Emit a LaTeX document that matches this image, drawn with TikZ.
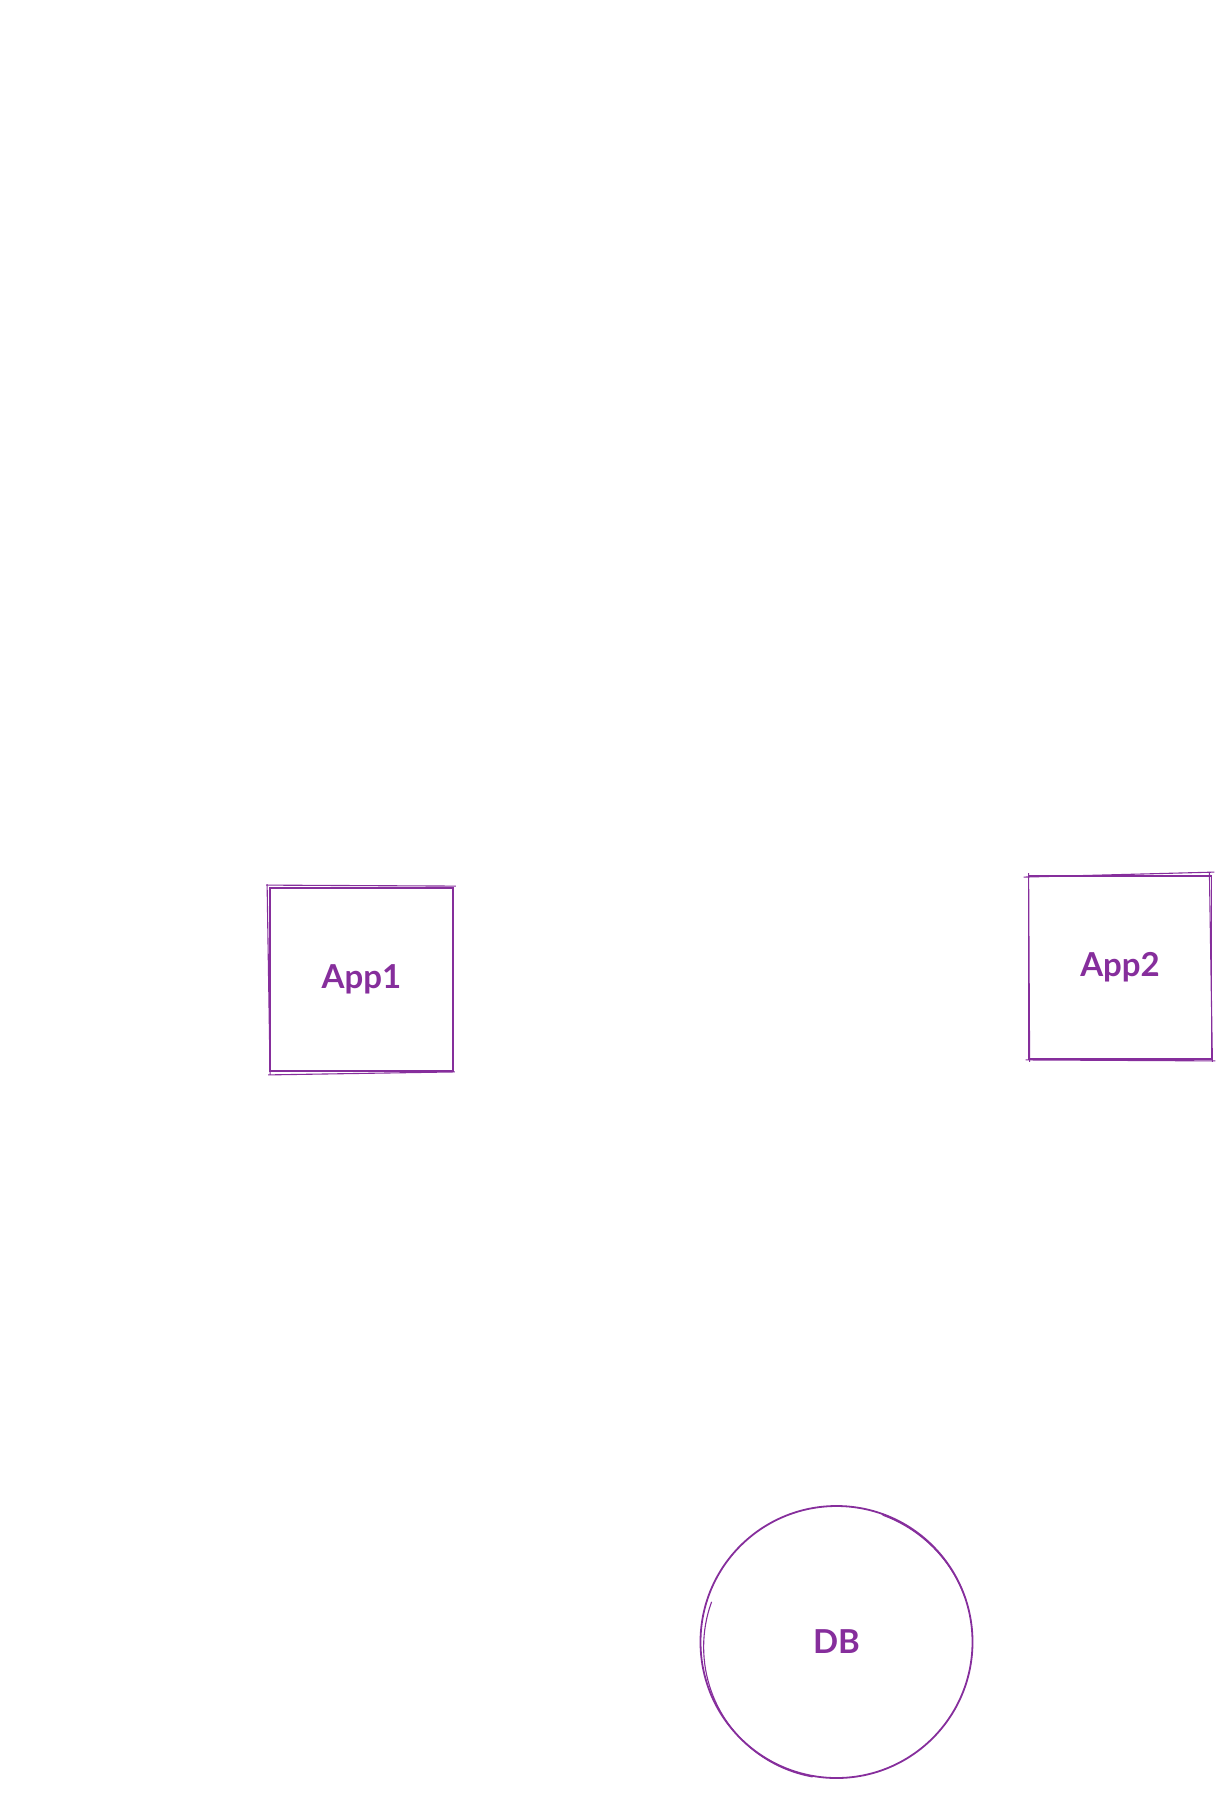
\documentclass[tikz,border=0pt]{standalone}
\usepackage{fontspec}
\setmainfont{Lato}
\definecolor{grape}{HTML}{862E9C}
\begin{document}
\begin{tikzpicture}[x=1pt,y=-1pt,
  sketch/.style={draw=grape, line width=1.8pt},
  boxnode/.style={sketch, rectangle, minimum width=183pt, minimum height=183pt, inner sep=0pt,
     font=\fontsize{33}{36}\selectfont\bfseries, text=grape},
  dbnode/.style={sketch, circle, minimum size=272pt, inner sep=0pt,
     font=\fontsize{33}{36}\selectfont\bfseries, text=grape},
  rough/.style={draw=grape, line width=1.1pt}]
\useasboundingbox (0,0) rectangle (1231,1819);
\node[boxnode] (app1) at (361.5,979.5) {App1};
\node[boxnode] (app2) at (1120,967.5) {App2};
\node[dbnode] (db) at (836.5,1642) {DB};
% sketchy second strokes
\draw[rough] ([shift={(-3,-2)}]app1.north west) -- ([shift={(2,-1)}]app1.north east);
\draw[rough] ([shift={(-2,-3)}]app1.north west) -- ([shift={(1,3)}]app1.south west);
\draw[rough] ([shift={(-1,3)}]app1.south west) -- ([shift={(1,0)}]app1.south east);
\draw[rough] ([shift={(-1,1)}]app1.north east) -- ([shift={(-1,0)}]app1.south east);
\draw[rough] ([shift={(-4,2)}]app2.north west) -- ([shift={(2,-3)}]app2.north east);
\draw[rough] ([shift={(1,-2)}]app2.north west) -- ([shift={(2,2)}]app2.south west);
\draw[rough] ([shift={(-2,0)}]app2.south west) -- ([shift={(3,1)}]app2.south east);
\draw[rough] ([shift={(-3,-3)}]app2.north east) -- ([shift={(0,2)}]app2.south east);
\draw[rough] (db.center) ++(100:137) arc[start angle=100, end angle=200, radius=132];
\draw[rough] (db.center) ++(-70:135) arc[start angle=-70, end angle=-20, radius=138];
\end{tikzpicture}
\end{document}
